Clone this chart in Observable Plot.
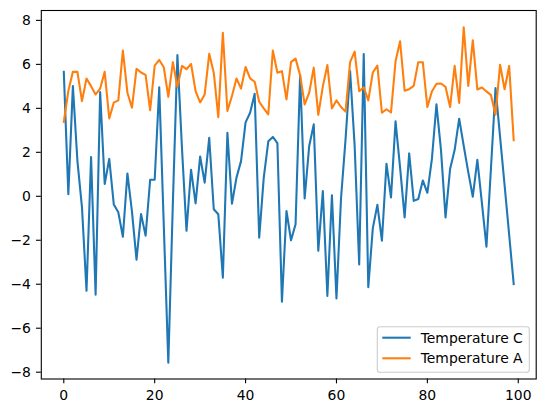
<!DOCTYPE html>
<html>
<head>
<meta charset="utf-8">
<script src="https://cdn.jsdelivr.net/npm/d3@7"></script>
<script src="https://cdn.jsdelivr.net/npm/@observablehq/plot@0.6"></script>
<style>
  html, body { margin: 0; padding: 0; background: white; }
  svg { display: block; }
</style>
</head>
<body>
<script>
const seriesNames = ["Temperature C", "Temperature A"];
const seriesColors = ["#1f77b4", "#ff7f0e"];

const tempC = [5.66, 0.1, 5.01, 1.6, -0.5, -4.3, 1.78, -4.48, 4.74, 0.56,
  1.7, -0.37, -0.73, -1.84, 1.04, -0.7, -2.88, -0.81, -1.79, 0.75,
  0.75, 4.96, -1.3, -7.57, -0.3, 6.42, 2.2, -1.57, 1.21, -0.32,
  1.81, 0.62, 2.66, -0.59, -0.82, -3.7, 2.89, -0.34, 0.85, 1.6,
  3.36, 3.8, 4.66, -1.88, 0.85, 2.5, 2.7, 2.42, -4.79, -0.67,
  -2.0, -1.27, 5.51, -0.1, 2.29, 3.27, -2.48, 0.24, -4.53, 0.05,
  -4.65, -0.1, 2.6, 5.7, 2.3, -3.1, 6.47, -4.13, -1.45, -0.39,
  -2.02, 1.48, -0.05, 3.41, 1.3, -0.96, 1.95, -0.21, -0.12, 0.72,
  0.16, 1.7, 4.18, 2.1, -0.96, 1.24, 2.1, 3.53, 2.3, 1.1,
  -0.02, 1.66, -0.3, -2.29, 1.3, 4.92, 2.7, 0.5, -1.75, -3.99];

const tempA = [3.38, 4.79, 5.66, 5.66, 4.33, 5.36, 5.01, 4.63, 4.9, 5.66,
  3.54, 4.26, 4.36, 6.63, 4.71, 4.03, 5.8, 5.63, 5.52, 3.92,
  5.94, 6.2, 5.87, 4.52, 6.1, 4.98, 5.93, 5.78, 6.02, 4.78,
  4.27, 4.63, 6.48, 5.62, 3.6, 7.44, 3.88, 4.56, 5.36, 4.9,
  5.88, 5.36, 5.21, 4.3, 4.0, 3.73, 6.63, 5.62, 5.69, 4.41,
  6.1, 6.26, 5.51, 4.18, 4.71, 5.85, 3.7, 5.0, 5.97, 4.0,
  4.36, 4.06, 3.85, 6.1, 6.58, 4.78, 4.96, 4.36, 5.63, 5.94,
  3.8, 3.96, 3.81, 6.14, 7.05, 4.8, 4.87, 5.02, 6.1, 6.1,
  4.06, 4.77, 5.12, 5.13, 4.98, 4.06, 5.93, 4.25, 7.69, 5.02,
  7.09, 4.86, 4.95, 4.77, 4.6, 3.71, 5.98, 4.87, 5.93, 2.55];

const xTicks = [0, 20, 40, 60, 80, 100];
const yTicks = [-8, -6, -4, -2, 0, 2, 4, 6, 8];

const rowsC = tempC.map((v, i) => ({i, v}));
const rowsA = tempA.map((v, i) => ({i, v}));

const n = tempC.length;
const xPad = (n - 1) * 0.05;
const fmt = d => (d < 0 ? "\u2212" + (-d) : String(d));

const chart = Plot.plot({
  width: 546,
  height: 413,
  marginLeft: 40.8,
  marginRight: 10.3,
  marginTop: 10,
  marginBottom: 34.5,
  style: {fontFamily: "DejaVu Sans", fontSize: "13.9px", color: "black", background: "white"},
  x: {domain: [-xPad, n - 1 + xPad]},
  y: {domain: [-8.31, 8.45]},
  marks: [
    Plot.line(rowsC, {x: "i", y: "v", stroke: seriesColors[0], strokeWidth: 2.08, strokeLinejoin: "round", strokeLinecap: "square"}),
    Plot.line(rowsA, {x: "i", y: "v", stroke: seriesColors[1], strokeWidth: 2.08, strokeLinejoin: "round", strokeLinecap: "square"}),
    Plot.frame({stroke: "black", strokeWidth: 1.1}),
    Plot.axisX({ticks: xTicks, tickSize: 4.86, tickPadding: 6.6, tickFormat: fmt, label: null, strokeWidth: 1.1}),
    Plot.axisY({ticks: yTicks, tickSize: 4.86, tickPadding: 5.5, tickFormat: fmt, label: null, strokeWidth: 1.1})
  ]
});

document.body.appendChild(chart);

// Legend (lower right, matplotlib style)
const svg = d3.select(chart);
const lg = svg.append("g").attr("text-anchor", "start");
lg.append("rect")
  .attr("x", 377.3).attr("y", 326.7)
  .attr("width", 152).attr("height", 45.6)
  .attr("rx", 2.8).attr("ry", 2.8)
  .attr("fill", "white").attr("fill-opacity", 0.8)
  .attr("stroke", "#cccccc").attr("stroke-width", 1.1);
seriesNames.forEach((name, k) => {
  const cy = 337.7 + k * 20.6;
  lg.append("line")
    .attr("x1", 382.3).attr("x2", 410.7)
    .attr("y1", cy).attr("y2", cy)
    .attr("stroke", seriesColors[k]).attr("stroke-width", 2.08);
  lg.append("text")
    .attr("x", 420.7).attr("y", cy).attr("dy", "0.36em")
    .attr("text-anchor", "start")
    .attr("fill", "black")
    .style("font-family", "DejaVu Sans").style("font-size", "13.9px")
    .text(name);
});
</script>
</body>
</html>
